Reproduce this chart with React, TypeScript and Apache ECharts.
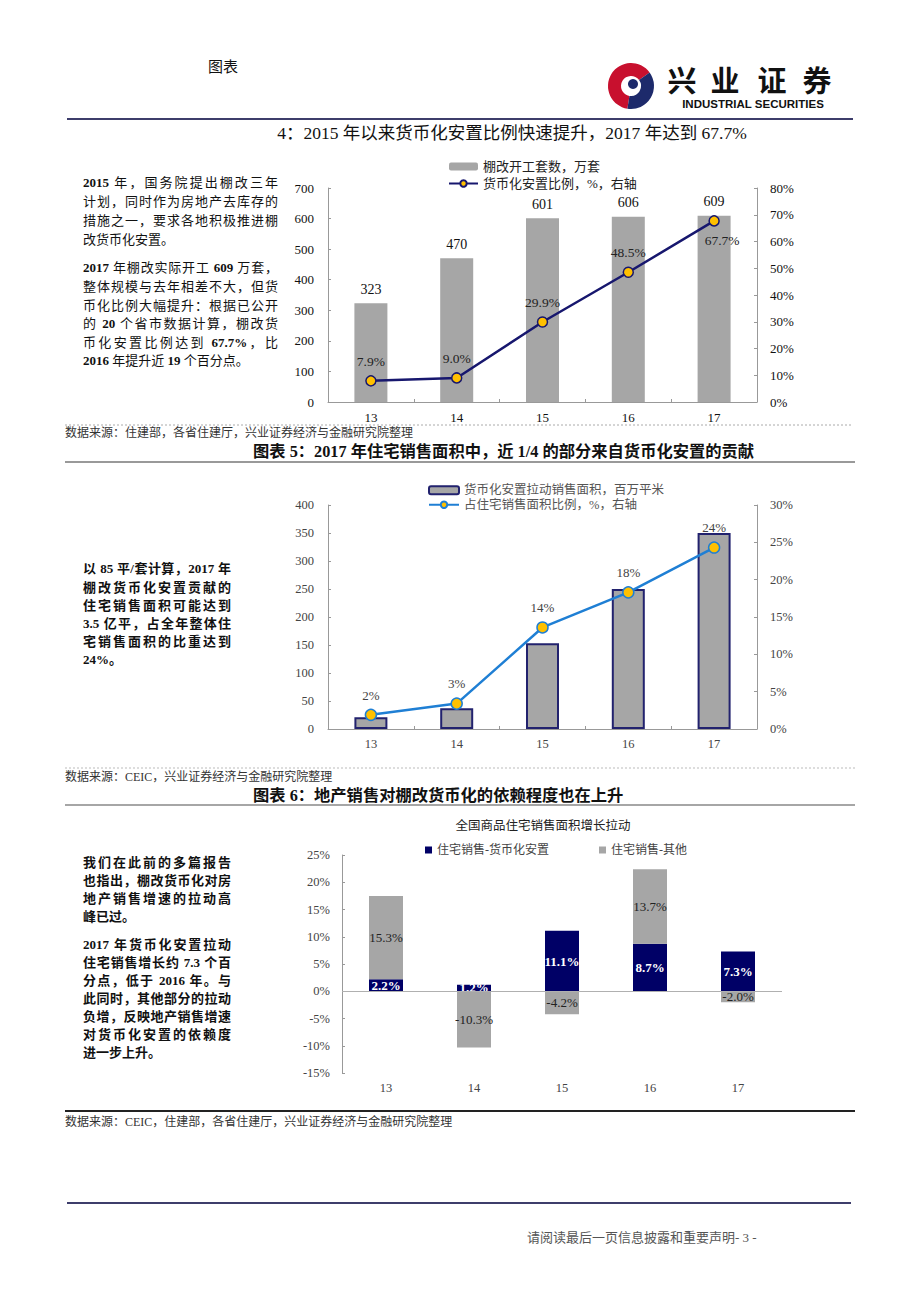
import React, { useEffect, useRef } from 'react';
import * as echarts from 'echarts';

// ---------- data ----------
const years = ['13', '14', '15', '16', '17'];
// 图表4
const shantyStarts = [323, 470, 601, 606, 609]; // 棚改开工套数，万套
const monetizeRatio = [7.9, 9.0, 29.9, 48.5, 67.7]; // 货币化安置比例，%
// 图表5
const pulledArea = [21, 37, 153, 250, 350]; // 货币化安置拉动销售面积，百万平米
const areaShare = [1.9, 3.4, 13.6, 18.3, 24.3]; // 占住宅销售面积比例，%
// 图表6
const pullMonetize = [2.2, 1.2, 11.1, 8.7, 7.3]; // 住宅销售-货币化安置
const pullOther = [15.3, -10.3, -4.2, 13.7, -2.0]; // 住宅销售-其他

const SERIF = '"Liberation Serif", "Times New Roman", "Noto Sans CJK SC", serif';
const NAVY = '#17176e';
const GRAY = '#a6a6a6';
const YELLOW = '#ffc000';
const BLUE = '#1f7fd4';

// paragraphs: "**x**" marks bold
const para4 = [
  { t: '**2015** 年，国务院提出棚改三年', y: 182, last: false },
  { t: '计划，同时作为房地产去库存的', y: 201, last: false },
  { t: '措施之一，要求各地积极推进棚', y: 220, last: false },
  { t: '改货币化安置。', y: 239, last: true },
  { t: '**2017** 年棚改实际开工 **609** 万套，', y: 267, last: false },
  { t: '整体规模与去年相差不大，但货', y: 286, last: false },
  { t: '币化比例大幅提升：根据已公开', y: 305, last: false },
  { t: '的 **20** 个省市数据计算，棚改货', y: 323, last: false },
  { t: '币化安置比例达到 **67.7%**，比', y: 342, last: false },
  { t: '**2016** 年提升近 **19** 个百分点。', y: 360, last: true },
];
const para5 = [
  { t: '以 85 平/套计算，2017 年', y: 569, last: false },
  { t: '棚改货币化安置贡献的', y: 588, last: false },
  { t: '住宅销售面积可能达到', y: 606, last: false },
  { t: '3.5 亿平，占全年整体住', y: 624, last: false },
  { t: '宅销售面积的比重达到', y: 642, last: false },
  { t: '24%。', y: 660, last: true },
];
const para6 = [
  { t: '我们在此前的多篇报告', y: 863, last: false },
  { t: '也指出，棚改货币化对房', y: 881, last: false },
  { t: '地产销售增速的拉动高', y: 899, last: false },
  { t: '峰已过。', y: 917, last: true },
  { t: '2017 年货币化安置拉动', y: 945, last: false },
  { t: '住宅销售增长约 7.3 个百', y: 963, last: false },
  { t: '分点，低于 2016 年。与', y: 981, last: false },
  { t: '此同时，其他部分的拉动', y: 999, last: false },
  { t: '负增，反映地产销售增速', y: 1017, last: false },
  { t: '对货币化安置的依赖度', y: 1035, last: false },
  { t: '进一步上升。', y: 1053, last: true },
];

function txt(text: string, x: number, y: number, size: number, opts: any = {}) {
  return {
    type: 'text',
    silent: true,
    style: {
      text,
      x,
      y,
      fill: opts.fill || '#111',
      fontSize: size,
      fontFamily: opts.family || SERIF,
      fontWeight: opts.weight || 'normal',
      lineHeight: opts.lh || undefined,
      textAlign: opts.align || 'left',
      textVerticalAlign: 'middle',
      verticalAlign: 'middle',
    },
  };
}
function hline(x1: number, x2: number, y: number, stroke: string, w: number, dash?: number[]) {
  return {
    type: 'line',
    silent: true,
    shape: { x1, y1: y, x2, y2: y },
    style: { stroke, lineWidth: w, lineDash: dash || null },
  };
}

const axisGray = '#999';
const LOGO_CJK = '"Noto Sans CJK SC", sans-serif';

function buildOption(): any {
  const graphic: any[] = [
    txt('图表', 208, 67, 15),
    // logo
    { type: 'sector', silent: true, shape: { cx: 631, cy: 86, r0: 10, r: 23, startAngle: Math.PI * 0.55, endAngle: Math.PI * 1.8, clockwise: true }, style: { fill: '#c8102e' } },
    { type: 'sector', silent: true, shape: { cx: 631, cy: 86, r0: 10, r: 23, startAngle: Math.PI * 1.8, endAngle: Math.PI * 2.55, clockwise: true }, style: { fill: '#1d2a6b' } },
    { type: 'circle', silent: true, shape: { cx: 633, cy: 84, r: 5 }, style: { fill: '#1d2a6b' } },
    txt('兴', 682, 79, 29, { weight: 'bold', family: LOGO_CJK, align: 'center', lh: 29 }),
    txt('业', 725, 79, 29, { weight: 'bold', family: LOGO_CJK, align: 'center', lh: 29 }),
    txt('证', 772, 79, 29, { weight: 'bold', family: LOGO_CJK, align: 'center', lh: 29 }),
    txt('券', 817, 79, 29, { weight: 'bold', family: LOGO_CJK, align: 'center', lh: 29 }),
    txt('INDUSTRIAL SECURITIES', 753, 104, 11.5, { weight: 'bold', family: '"Liberation Sans", Arial, sans-serif', align: 'center', lh: 11 }),
    hline(67, 853, 119, '#3d3d6b', 2),
    // chart 4
    txt('4：2015 年以来货币化安置比例快速提升，2017 年达到 67.7%', 512, 133, 17.5, { align: 'center' }),
    hline(65, 853, 425, '#aaa', 1, [2, 2]),
    txt('数据来源：住建部，各省住建厅，兴业证券经济与金融研究院整理', 65, 433, 12, { fill: '#333' }),
    // chart 5
    txt('图表 5：2017 年住宅销售面积中，近 1/4 的部分来自货币化安置的贡献', 253, 451, 16.3, { weight: 'bold' }),
    hline(65, 855, 462, '#777', 1.5),
    hline(65, 855, 768, '#bbb', 1, [2, 2]),
    txt('数据来源：CEIC，兴业证券经济与金融研究院整理', 65, 777, 12, { fill: '#333' }),
    // chart 6
    txt('图表 6：地产销售对棚改货币化的依赖程度也在上升', 253, 795, 16.3, { weight: 'bold' }),
    hline(65, 855, 805, '#888', 1.5),
    txt('全国商品住宅销售面积增长拉动', 543, 826, 12.5, { align: 'center', fill: '#222' }),
    hline(65, 855, 1111, '#222', 2),
    txt('数据来源：CEIC，住建部，各省住建厅，兴业证券经济与金融研究院整理', 65, 1122, 12, { fill: '#333' }),
    // footer
    hline(67, 851, 1203, '#3d3d6b', 2),
    txt('请阅读最后一页信息披露和重要声明- 3 -', 527, 1237, 13, { fill: '#555' }),
  ];

  const catAxis = (gridIndex: number, showLine: boolean, size: number, color: string) => ({
    type: 'category',
    gridIndex,
    data: years,
    boundaryGap: true,
    axisLine: { show: showLine, onZero: false, lineStyle: { color: axisGray, width: 1 } },
    axisTick: { show: showLine, inside: true, length: 3, alignWithLabel: false, lineStyle: { color: axisGray } },
    axisLabel: { fontSize: size, color, fontFamily: SERIF, margin: 9 },
    splitLine: { show: false },
  });
  const valAxis = (gridIndex: number, min: number, max: number, interval: number, pos: 'left' | 'right', pct: boolean, size: number, color: string, margin: number) => ({
    type: 'value',
    gridIndex,
    position: pos,
    min,
    max,
    interval,
    axisLine: { show: true, lineStyle: { color: axisGray, width: 1 } },
    axisTick: { show: true, inside: true, length: 3, lineStyle: { color: axisGray } },
    splitLine: { show: false },
    axisLabel: { fontSize: size, color, fontFamily: SERIF, margin, formatter: pct ? '{value}%' : '{value}' },
  });

  return {
    animation: false,
    backgroundColor: '#fff',
    textStyle: { fontFamily: SERIF },
    graphic,
    grid: [
      { left: 328, top: 188, width: 429, height: 214 },
      { left: 328, top: 505, width: 429, height: 224 },
      { left: 342, top: 855, width: 440, height: 218 },
    ],
    legend: [
      {
        left: 443, top: 155, orient: 'vertical', itemWidth: 29, itemHeight: 8, itemGap: 4, selectedMode: false,
        data: ['棚改开工套数，万套', '货币化安置比例，%，右轴'],
        textStyle: { fontSize: 13, color: '#222', fontFamily: SERIF },
      },
      {
        left: 423, top: 479, orient: 'vertical', itemWidth: 30, itemHeight: 8, itemGap: 2, selectedMode: false,
        data: ['货币化安置拉动销售面积，百万平米', '占住宅销售面积比例，%，右轴'],
        textStyle: { fontSize: 12.5, color: '#555', fontFamily: SERIF },
      },
      {
        left: 420, top: 839, orient: 'horizontal', itemWidth: 7, itemHeight: 7, itemGap: 50, icon: 'rect', selectedMode: false,
        data: ['住宅销售-货币化安置', '住宅销售-其他'],
        textStyle: { fontSize: 12, color: '#444', fontFamily: SERIF },
      },
    ],
    xAxis: [
      catAxis(0, true, 13, '#111'),
      catAxis(1, true, 12.5, '#444'),
      catAxis(2, false, 12.5, '#444'),
    ],
    yAxis: [
      valAxis(0, 0, 700, 100, 'left', false, 13, '#111', 14),
      valAxis(0, 0, 80, 10, 'right', true, 13, '#111', 13),
      valAxis(1, 0, 400, 50, 'left', false, 12.5, '#444', 14),
      valAxis(1, 0, 30, 5, 'right', true, 12.5, '#444', 13),
      valAxis(2, -15, 25, 5, 'left', true, 12.5, '#444', 12),
    ],
    series: [
      {
        name: '棚改开工套数，万套', type: 'bar', xAxisIndex: 0, yAxisIndex: 0, data: shantyStarts, barWidth: 33,
        itemStyle: { color: GRAY },
        label: { show: true, position: 'top', distance: 7, fontSize: 14, color: '#111', fontFamily: SERIF },
      },
      {
        name: '货币化安置比例，%，右轴', type: 'line', xAxisIndex: 0, yAxisIndex: 1,
        data: monetizeRatio.map((v, i) => (i === monetizeRatio.length - 1 ? { value: v, label: { position: 'bottom', offset: [8, 0] } } : v)),
        symbol: 'circle', symbolSize: 10, lineStyle: { color: NAVY, width: 2.5 },
        itemStyle: { color: YELLOW, borderColor: NAVY, borderWidth: 1.5 },
        label: { show: true, position: 'top', distance: 7, fontSize: 13.5, color: '#222', fontFamily: SERIF, formatter: (p: any) => Number(p.value).toFixed(1) + '%' },
        z: 5,
      },
      {
        name: '货币化安置拉动销售面积，百万平米', type: 'bar', xAxisIndex: 1, yAxisIndex: 2, data: pulledArea, barWidth: 33,
        itemStyle: { color: GRAY, borderColor: '#22226e', borderWidth: 2 },
      },
      {
        name: '占住宅销售面积比例，%，右轴', type: 'line', xAxisIndex: 1, yAxisIndex: 3, data: areaShare,
        symbol: 'circle', symbolSize: 11, lineStyle: { color: BLUE, width: 2.5 },
        itemStyle: { color: YELLOW, borderColor: BLUE, borderWidth: 1.5 },
        label: { show: true, position: 'top', distance: 7, fontSize: 13, color: '#444', fontFamily: SERIF, formatter: (p: any) => Math.round(p.value) + '%' },
        z: 5,
      },
      {
        name: '住宅销售-货币化安置', type: 'bar', stack: 'pull', xAxisIndex: 2, yAxisIndex: 4, data: pullMonetize, barWidth: 34,
        itemStyle: { color: '#000066' },
        label: { show: true, position: 'inside', fontSize: 13, fontWeight: 'bold', color: '#fff', textBorderWidth: 0, fontFamily: SERIF, formatter: (p: any) => Number(p.value).toFixed(1) + '%' },
        markLine: {
          silent: true, symbol: 'none', label: { show: false },
          lineStyle: { color: '#b0b0b0', type: 'solid', width: 1 },
          data: [{ yAxis: 0 }],
        },
      },
      {
        name: '住宅销售-其他', type: 'bar', stack: 'pull', xAxisIndex: 2, yAxisIndex: 4, data: pullOther, barWidth: 34,
        itemStyle: { color: GRAY },
        label: { show: true, position: 'inside', fontSize: 13, color: '#222', textBorderWidth: 0, fontFamily: SERIF, formatter: (p: any) => Number(p.value).toFixed(1) + '%' },
      },
    ],
  };
}

function renderLine(t: string) {
  const parts = t.split('**');
  return parts.map((p, i) => (i % 2 === 1 ? <b key={i}>{p}</b> : <span key={i}>{p}</span>));
}

function Para({ lines, left, width, lh, size, bold }: { lines: { t: string; y: number; last: boolean }[]; left: number; width: number; lh: number; size: number; bold: boolean }) {
  return (
    <>
      {lines.map((l, i) => (
        <div
          key={i}
          style={{
            position: 'absolute',
            left,
            top: l.y - lh / 2,
            width,
            height: lh,
            lineHeight: lh + 'px',
            fontSize: size,
            fontFamily: SERIF,
            fontWeight: bold ? 700 : 400,
            color: '#111',
            whiteSpace: 'nowrap',
            textAlign: 'justify',
            textAlignLast: l.last ? 'left' : 'justify',
          } as any}
        >
          {renderLine(l.t)}
        </div>
      ))}
    </>
  );
}

export default function App() {
  const ref = useRef<HTMLDivElement>(null);
  useEffect(() => {
    if (!ref.current) return;
    const chart = echarts.init(ref.current, null, { renderer: 'svg', width: 920, height: 1302 });
    chart.setOption(buildOption());
    return () => chart.dispose();
  }, []);
  return (
    <div style={{ position: 'absolute', left: 0, top: 0, width: 920, height: 1302, background: '#fff', overflow: 'hidden' }}>
      <div ref={ref} style={{ position: 'absolute', left: 0, top: 0, width: 920, height: 1302 }} />
      <Para lines={para4} left={83} width={195} lh={19} size={13} bold={false} />
      <Para lines={para5} left={83} width={148} lh={18} size={13} bold={true} />
      <Para lines={para6} left={83} width={148} lh={18} size={13} bold={true} />
    </div>
  );
}
